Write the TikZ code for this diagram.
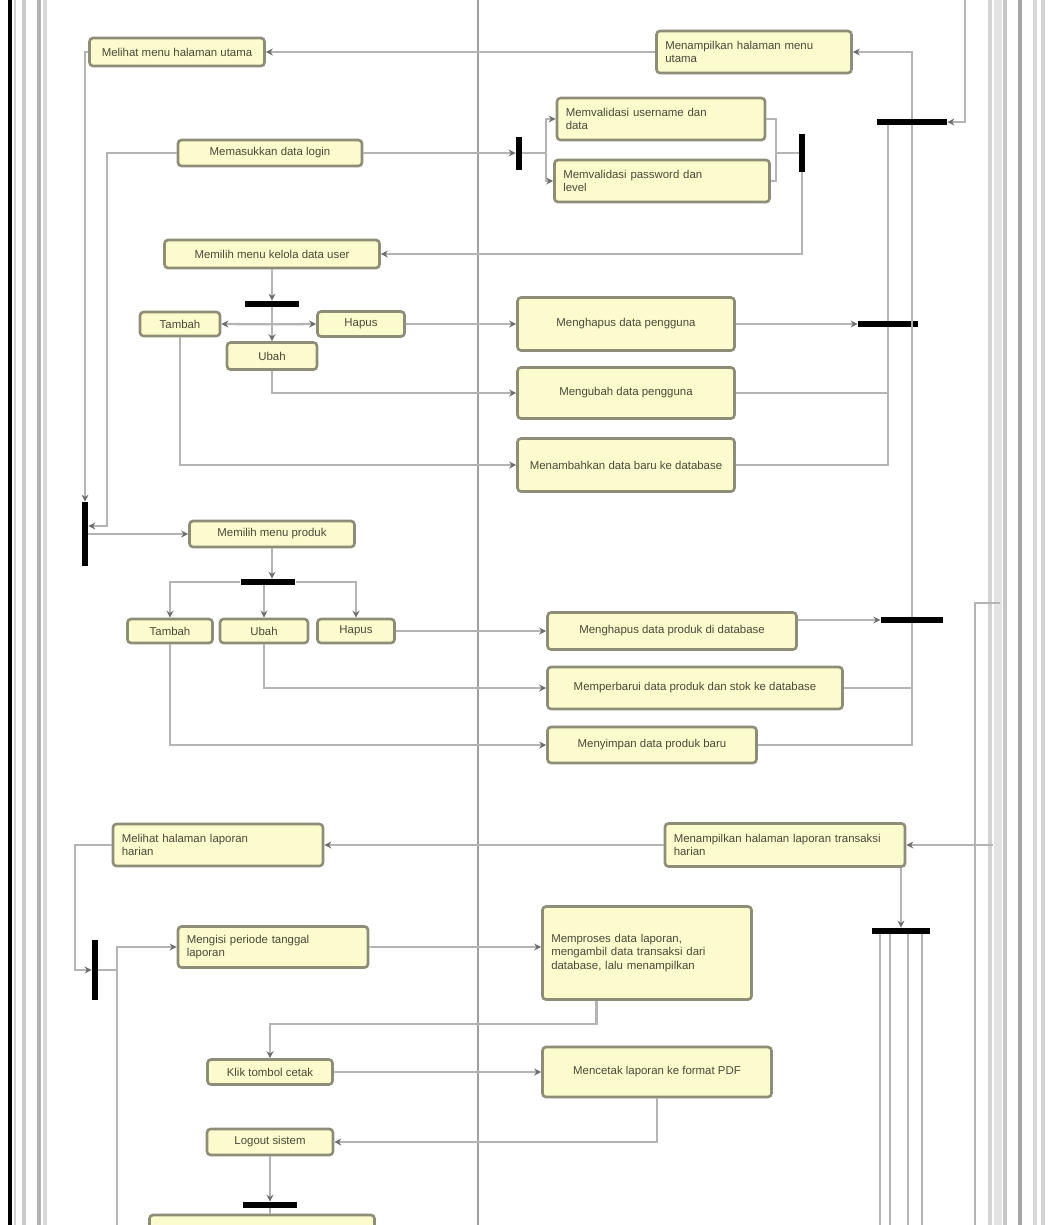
\documentclass[tikz,border=0pt]{standalone}
\usepackage{fontspec}
\setmainfont{Liberation Sans}
\usetikzlibrary{arrows.meta}
\definecolor{ACFill}{HTML}{FBFBCD}
\definecolor{ACEdge}{HTML}{8E8E78}
\definecolor{ACText}{HTML}{4A4A38}
\definecolor{ACFlow}{HTML}{B4B4B4}
\definecolor{ACTip}{HTML}{6E6E6E}
\definecolor{ACLane}{HTML}{A0A0A0}

\begin{document}
\begin{tikzpicture}[x=0.02cm,y=-0.02cm,
  act/.style={draw=ACEdge,fill=ACFill,line width=1.5pt,rounded corners=2pt,
    inner xsep=5pt,inner ysep=2pt,text=ACText,font=\fontsize{6.5}{7.8}\selectfont},
  hbar/.style={fill=black,inner sep=0pt,minimum height=0.12cm},
  vbar/.style={fill=black,inner sep=0pt,minimum width=0.12cm},
  flow/.style={draw=ACFlow,line width=1.3pt},
  flowto/.style={flow,-{Stealth[length=4pt,width=4pt,color=ACTip]}},
  lane/.style={line width=#1}]
\path[use as bounding box] (0,0) rectangle (1054,1225);
\clip (0,0) rectangle (1054,1225);
\fill[white] (0,0) rectangle (1054,1225);

\draw[lane=2.8pt,black] (10,0) -- (10,1225);
\draw[lane=1.6pt,gray!35] (15,0) -- (15,1225);
\draw[lane=2.2pt,gray!40] (24,0) -- (24,1225);
\draw[lane=2.4pt,gray!60] (39,0) -- (39,1225);
\draw[lane=2.4pt,gray!30] (45,0) -- (45,1225);
\draw[lane=1.6pt,ACLane] (478,0) -- (478,1225);
\draw[lane=2.2pt,gray!35] (990,0) -- (990,1225);
\draw[lane=4pt,gray!22] (998,0) -- (998,1225);
\draw[lane=1.8pt,gray!45] (1005,0) -- (1005,1225);
\draw[lane=2.4pt,gray!70] (1020,0) -- (1020,1225);
\draw[lane=1.8pt,gray!30] (1035,0) -- (1035,1225);
\draw[lane=2.2pt,gray!35] (1043,0) -- (1043,1225);
\draw[flow] (1000,603) -- (975,603) -- (975,1225);

\node[act,minimum width=3.5cm,minimum height=0.56cm] (hal) at (177,52) {Melihat menu halaman utama};
\node[act,minimum width=3.9cm,minimum height=0.84cm,text width=3.55cm,align=left] (tampil) at (754,52) {Menampilkan halaman menu\\utama};
\node[act,minimum width=3.68cm,minimum height=0.52cm] (isi) at (270,153) {Memasukkan data login};
\node[act,minimum width=4.16cm,minimum height=0.84cm,text width=3.81cm,align=left] (cekuser) at (661,119) {Memvalidasi username dan\\data};
\node[act,minimum width=4.3cm,minimum height=0.84cm,text width=3.95cm,align=left] (cekpass) at (662,181) {Memvalidasi password dan\\level};
\node[act,minimum width=4.3cm,minimum height=0.56cm] (menu) at (272,254) {Memilih menu kelola data user};

\node[act,minimum width=1.6cm,minimum height=0.48cm] (tambah) at (180,324) {Tambah};
\node[act,minimum width=1.8cm,minimum height=0.54cm] (ubah) at (272,356) {Ubah};
\node[act,minimum width=1.74cm,minimum height=0.5cm] (hapus) at (361,324) {Hapus};
\node[act,minimum width=4.34cm,minimum height=1.06cm] (hapusdb) at (626,324) {Menghapus data pengguna};
\node[act,minimum width=4.34cm,minimum height=1.02cm] (ubahdb) at (626,393) {Mengubah data pengguna};
\node[act,minimum width=4.34cm,minimum height=1.06cm] (tambahdb) at (626,465) {Menambahkan data baru ke database};

\node[act,minimum width=3.3cm,minimum height=0.52cm] (produk) at (272,534) {Memilih menu produk};
\node[act,minimum width=1.7cm,minimum height=0.48cm] (tambah2) at (170,631) {Tambah};
\node[act,minimum width=1.76cm,minimum height=0.48cm] (ubah2) at (264,631) {Ubah};
\node[act,minimum width=1.54cm,minimum height=0.48cm] (hapus2) at (356,631) {Hapus};
\node[act,minimum width=4.98cm,minimum height=0.74cm] (hapusp) at (672,631) {Menghapus data produk di database};
\node[act,minimum width=5.9cm,minimum height=0.84cm] (ubahp) at (695,688) {Memperbarui data produk dan stok ke database};
\node[act,minimum width=4.18cm,minimum height=0.72cm] (tambahp) at (652,745) {Menyimpan data produk baru};

\node[act,minimum width=4.2cm,minimum height=0.84cm,text width=3.85cm,align=left] (lihat) at (218,845) {Melihat halaman laporan\\harian};
\node[act,minimum width=4.8cm,minimum height=0.86cm,text width=4.45cm,align=left] (lap) at (785,845) {Menampilkan halaman laporan transaksi\\harian};
\node[act,minimum width=3.8cm,minimum height=0.82cm,text width=3.45cm,align=left] (form) at (273,947) {Mengisi periode tanggal\\laporan};
\node[act,minimum width=4.18cm,minimum height=1.86cm,text width=3.83cm,align=left] (proses) at (647,953) {Memproses data laporan,\\mengambil data transaksi dari\\database, lalu menampilkan};
\node[act,minimum width=2.5cm,minimum height=0.5cm] (cetak) at (270,1072) {Klik tombol cetak};
\node[act,minimum width=4.58cm,minimum height=1.0cm] (pdf) at (657,1072) {Mencetak laporan ke format PDF};
\node[act,minimum width=2.52cm,minimum height=0.52cm] (keluar) at (270,1142) {Logout sistem};
\node[act,minimum width=4.5cm,minimum height=1.0cm] (akhir) at (262,1240) {};

\node[hbar,minimum width=1.4cm] (f1) at (912,122) {};
\node[vbar,minimum height=0.66cm] (f2) at (519,153) {};
\node[vbar,minimum height=0.76cm] (f5) at (802,153) {};
\node[hbar,minimum width=1.1cm] (f6) at (272,304) {};
\node[hbar,minimum width=1.2cm] (f3) at (888,324) {};
\node[vbar,minimum height=1.28cm] (j1) at (85,534) {};
\node[hbar,minimum width=1.1cm] (f7) at (268,582) {};
\node[hbar,minimum width=1.25cm] (f4) at (912,620) {};
\node[hbar,minimum width=1.16cm] (f8) at (901,931) {};
\node[vbar,minimum height=1.2cm] (j2) at (95,970) {};
\node[hbar,minimum width=1.1cm] (f9) at (270,1205) {};

\coordinate (topin) at (965,0);
\coordinate (r1) at (993,845);
\coordinate (j2r) at (117,970);
\coordinate (j2d) at (117,1225);

\draw[flowto] (topin) |- (f1.east);
\draw[flowto] (f1.north) |- (tampil.east);
\draw[flowto] (tampil.west) -- (hal.east);
\draw[flowto] (hal.west) -| (j1.north);
\draw[flowto] (isi.west) -- ++(-70,0) |- ([yshift=0.16cm]j1.east);
\draw[flowto] (isi.east) -- (f2.west);
\draw[flowto] (f2.east) -- ++(24,0) |- (cekuser.west);
\draw[flowto] (f2.east) -- ++(24,0) |- (cekpass.west);
\draw[flow] (cekuser.east) -- ++(10,0) |- (f5.west);
\draw[flow] (cekpass.east) -- ++(5,0) |- (f5.west);
\draw[flowto] (f5.south) |- (menu.east);
\draw[flowto] (menu.south) -- (f6.north);
\draw[flowto] (f6.south) -- (ubah.north);
\draw[flow] (f6.south) -- ++(0,17) coordinate (f6b);
\draw[flowto] (f6b) -- (tambah.east);
\draw[flowto] (f6b) -- (hapus.west);
\draw[flowto] (hapus.east) -- (hapusdb.west);
\draw[flowto] (ubah.south) |- (ubahdb.west);
\draw[flowto] (tambah.south) |- (tambahdb.west);
\draw[flowto] (hapusdb.east) -- (f3.west);
\draw[flow] (ubahdb.east) -- (ubahdb.east -| f3.south);
\draw[flow] (tambahdb.east) -| (f3.south);
\draw[flow] (f3.north) -- (f3.north |- f1.south);
\draw[flow] (f4.north) -- (f4.north |- f1.south);

\draw[flowto] (j1.east) -- (produk.west);
\draw[flowto] (produk.south) -- (produk.south |- f7.north);
\draw[flowto] (f7.west) -| (tambah2.north);
\draw[flowto] (ubah2.north |- f7.south) -- (ubah2.north);
\draw[flowto] (f7.east) -| (hapus2.north);
\draw[flowto] (hapus2.east) -- (hapusp.west);
\draw[flowto] (ubah2.south) |- (ubahp.west);
\draw[flowto] (tambah2.south) |- (tambahp.west);
\draw[flowto] (hapusp.east |- f4.west) -- (f4.west);
\draw[flow] (ubahp.east) -- (ubahp.east -| f4.south);
\draw[flow] (tambahp.east) -| (f4.south);

\draw[flowto] (r1) -- (lap.east);
\draw[flowto] (lap.west) -- (lihat.east);
\draw[flowto] (f8.north |- lap.south) -- (f8.north);
\foreach \dx in {-21,-11,7,21}
  \draw[flow] ([xshift=\dx*0.02cm]f8.south) -- ++(0,300);
\draw[flowto] (lihat.west) -- ++(-37,0) |- (j2.west);
\draw[flow] (j2.east) -- (j2r);
\draw[flowto] (j2r) |- (form.west);
\draw[flow] (j2r) -- (j2d);
\draw[flowto] (form.east) -- (form.east -| proses.west);
\draw[flowto] ([xshift=-1.01cm]proses.south) -- ++(0,23) -| (cetak.north);
\draw[flowto] (cetak.east) -- (cetak.east -| pdf.west);
\draw[flowto] (pdf.south) |- (keluar.east);
\draw[flowto] (keluar.south) -- (f9.north);
\draw[flow] (f9.south) -- (f9.south |- akhir.north);
\end{tikzpicture}
\end{document}
